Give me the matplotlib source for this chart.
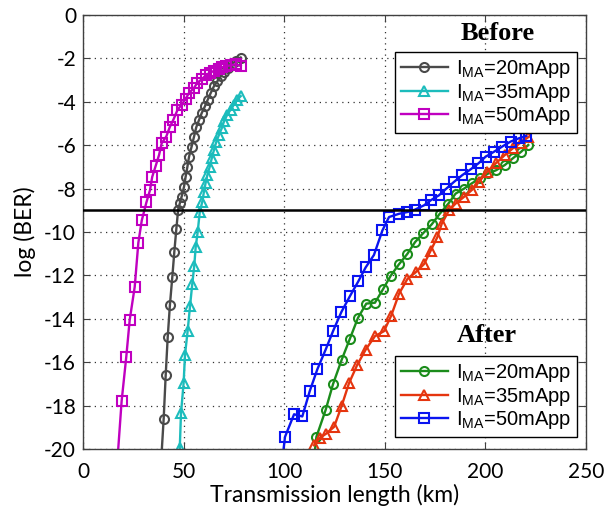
import matplotlib
matplotlib.use("Agg")
import matplotlib.pyplot as plt

# ---------------- data ----------------
# Before (back-to-back), 20 mApp
b20_x = [39.0, 40.1, 41.1, 42.1, 43.2, 44.4, 45.4, 46.4, 47.3, 48.2, 49.0, 50.2, 51.0, 51.9,
         52.7, 54.0, 55.2, 56.3, 57.7, 59.0, 60.6, 62.0, 63.5, 65.1, 66.8, 68.4, 70.1, 72.2,
         73.9, 75.9, 78.4]
b20_y = [-20.3, -18.6, -16.6, -14.85, -13.36, -12.06, -10.9, -9.85, -8.97, -8.65, -8.38, -7.92,
         -7.46, -6.99, -6.53, -6.06, -5.6, -5.17, -4.83, -4.52, -4.21, -3.9, -3.59, -3.28, -3.05,
         -2.82, -2.63, -2.43, -2.27, -2.12, -1.96]
# Before, 35 mApp
b35_x = [48.1, 48.7, 50.0, 50.7, 52.0, 53.2, 54.3, 55.3, 56.0, 57.0, 58.0, 59.3, 60.1, 60.9,
         61.8, 63.0, 64.0, 65.1, 66.3, 67.6, 69.0, 70.1, 71.7, 73.4, 75.0, 76.7, 78.4]
b35_y = [-19.95, -18.36, -16.97, -15.65, -14.57, -13.41, -12.4, -11.55, -10.7, -10.0, -9.1, -8.6,
         -8.15, -7.76, -7.38, -6.99, -6.6, -6.22, -5.83, -5.52, -5.21, -4.9, -4.59, -4.36, -4.13,
         -3.9, -3.74]
# Before, 50 mApp
b50_x = [17.2, 19.2, 21.5, 23.2, 25.7, 27.5, 29.2, 31.5, 33.3, 34.4, 36.1, 37.8, 39.1, 41.4,
         43.1, 44.9, 46.9, 49.0, 51.0, 52.7, 55.2, 56.8, 59.0, 61.0, 63.0, 65.1, 67.6, 69.2,
         71.2, 73.4, 75.9, 78.4]
b50_y = [-20.4, -17.79, -15.76, -14.06, -12.53, -10.5, -9.47, -8.64, -8.07, -7.46, -6.96, -6.45,
         -5.91, -5.6, -5.17, -4.83, -4.39, -4.13, -3.87, -3.59, -3.36, -3.12, -2.97, -2.78, -2.66,
         -2.58, -2.47, -2.41, -2.35, -2.32, -2.27, -2.35]
# After (compensated), 20 mApp
a20_x = [115.0, 116.0, 120.6, 124.3, 128.6, 132.6, 136.7, 140.8, 145.1, 149.1, 152.9, 157.1,
         161.2, 165.0, 169.0, 173.3, 177.3, 181.6, 185.2, 189.4, 193.2, 197.2, 201.5, 205.4,
         209.7, 213.7, 217.8, 221.3]
a20_y = [-20.3, -19.44, -18.2, -17.0, -15.88, -14.93, -13.95, -13.3, -13.26, -12.64, -12.02,
         -11.48, -11.01, -10.47, -10.06, -9.65, -9.16, -8.69, -8.23, -8.0, -7.76, -7.53, -7.3,
         -7.15, -6.91, -6.6, -6.3, -5.99]
# After, 35 mApp
a35_x = [114.8, 117.6, 120.9, 124.8, 128.6, 132.2, 136.3, 140.5, 145.1, 149.6, 153.2, 157.1,
         161.2, 165.3, 169.5, 172.8, 176.1, 178.3, 181.9, 185.2, 189.4, 193.2, 196.8, 200.9,
         205.1, 209.7, 213.7, 217.5, 221.3]
a35_y = [-19.83, -19.5, -19.29, -18.98, -18.0, -16.97, -16.12, -15.42, -14.8, -14.57, -13.85,
         -12.84, -12.17, -11.86, -11.48, -10.86, -10.24, -9.62, -9.0, -8.69, -8.38, -8.07, -7.69,
         -7.22, -6.84, -6.45, -6.14, -5.88, -5.63]
# After, 50 mApp
a50_x = [99.3, 100.4, 104.9, 109.0, 112.7, 116.5, 120.6, 124.4, 128.4, 132.7, 136.8, 140.5,
         144.6, 148.8, 152.1, 157.1, 161.2, 165.0, 169.5, 172.8, 176.9, 180.6, 184.4, 188.5,
         192.7, 196.5, 200.1, 204.3, 208.4, 212.6, 216.7, 220.3]
a50_y = [-20.3, -19.44, -18.4, -18.5, -17.33, -16.32, -15.42, -14.54, -13.69, -12.95, -12.28,
         -11.63, -11.06, -9.93, -9.31, -9.16, -9.08, -8.97, -8.77, -8.54, -8.31, -8.0, -7.69,
         -7.38, -7.11, -6.84, -6.53, -6.3, -6.06, -5.83, -5.68, -5.57]

ber_limit = -9
x_ticks = [0, 50, 100, 150, 200, 250]
y_ticks = [0, -2, -4, -6, -8, -10, -12, -14, -16, -18, -20]
labels = [r'I$_{\mathrm{MA}}$=20mApp', r'I$_{\mathrm{MA}}$=35mApp', r'I$_{\mathrm{MA}}$=50mApp']

# ---------------- style ----------------
plt.rcParams['mathtext.fontset'] = 'custom'
plt.rcParams['mathtext.rm'] = 'Liberation Sans'
plt.rcParams['mathtext.it'] = 'Liberation Sans:italic'
plt.rcParams['mathtext.bf'] = 'Liberation Sans:bold'
plt.rcParams['axes.unicode_minus'] = False

fig = plt.figure(figsize=(6.04, 5.09), dpi=100)
ax = fig.add_axes([83/604, 1-449/509, 503/604, 434/509])

lw = 1.7
mew = 1.5
kw = dict(linewidth=lw, markeredgewidth=mew, markerfacecolor='none')
gray = '#4a4a4a'
cyan = '#1cbcbc'
mag = '#c000c0'
green = '#1b8c1b'
red = '#e5350f'
blue = '#0a14f0'

h1, = ax.plot(b20_x, b20_y, '-o', color=gray, markersize=6.5, **kw)
h2, = ax.plot(b35_x, b35_y, '-^', color=cyan, markersize=7.5, **kw)
h3, = ax.plot(b50_x, b50_y, '-s', color=mag, markersize=7.5, **kw)
g1, = ax.plot(a20_x, a20_y, '-o', color=green, markersize=6.5, **kw)
g2, = ax.plot(a35_x, a35_y, '-^', color=red, markersize=7.5, **kw)
g3, = ax.plot(a50_x, a50_y, '-s', color=blue, markersize=7.5, **kw)

ax.axhline(ber_limit, color='black', linewidth=1.8, zorder=5)

ax.set_xlim(0, 250)
ax.set_ylim(-20, 0)
ax.set_xticks(x_ticks)
ax.set_yticks(y_ticks)
ax.grid(True, linestyle=(0, (1, 3.5)), color='#333333', linewidth=0.9)
ax.tick_params(direction='in', length=5, top=True, right=True, color='#404040',
               labelsize=15)
ax.tick_params(axis='x', pad=9)
ax.tick_params(axis='y', pad=5)
for lab in ax.get_xticklabels() + ax.get_yticklabels():
    lab.set_family('Lato')
for s in ax.spines.values():
    s.set_color('#404040')
    s.set_linewidth(1.0)

ax.set_xlabel('Transmission length (km)', family='Lato', fontsize=16.5, labelpad=2)
ax.set_ylabel('log (BER)', family='Lato', fontsize=16.5, labelpad=6)

leg_kw = dict(loc='upper right', bbox_transform=fig.transFigure, fancybox=False,
              framealpha=1, edgecolor='black', borderaxespad=0,
              prop={'family': 'Liberation Sans', 'size': 14.5},
              handlelength=2.3, handletextpad=0.4, labelspacing=0.08, borderpad=0.3)
leg1 = ax.legend([h1, h2, h3], labels, bbox_to_anchor=(577/604, 1-52/509), **leg_kw)
leg1.get_frame().set_linewidth(1.0)
ax.add_artist(leg1)
leg2 = ax.legend([g1, g2, g3], labels, bbox_to_anchor=(577/604, 1-356/509), **leg_kw)
leg2.get_frame().set_linewidth(1.0)

fig.text(498/604, 1-33/509, 'Before', family='Liberation Serif', weight='bold',
         fontsize=19, ha='center', va='center')
fig.text(487/604, 1-335/509, 'After', family='Liberation Serif', weight='bold',
         fontsize=19, ha='center', va='center')

fig.savefig('out.png', dpi=100)
